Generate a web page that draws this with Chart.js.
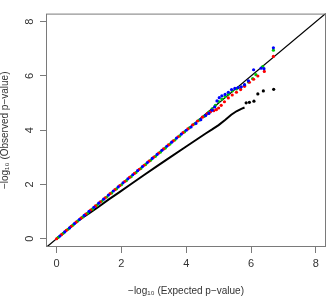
<!DOCTYPE html>
<html lang="en">
<head>
    <meta charset="UTF-8">
    <title>QQ plot</title>
    <script src="https://cdn.jsdelivr.net/npm/chart.js"></script>
    <style>
        body { margin: 0; background: #fff; }
    </style>
</head>
<body>
    <canvas id="qq" width="330" height="296"></canvas>
    <script>
        // -log10 p-values, expected (x) vs observed (y)
        const redX = [0.00, 0.15, 0.30, 0.45, 0.60, 0.75, 0.90, 1.05, 1.20, 1.35, 1.50, 1.65, 1.80, 1.95, 2.10, 2.25, 2.40, 2.55, 2.70, 2.85, 3.00, 3.15, 3.30, 3.45, 3.60, 3.75, 3.90, 4.05, 4.20, 4.35, 4.50, 4.65, 4.75, 4.85, 4.93, 5.00, 5.08, 5.18, 5.30, 5.42, 5.55, 5.68, 5.80, 5.95, 6.08, 6.21, 6.41, 6.69];
        const redY = [0.00, 0.15, 0.31, 0.46, 0.61, 0.76, 0.91, 1.06, 1.21, 1.36, 1.51, 1.66, 1.81, 1.96, 2.11, 2.26, 2.41, 2.56, 2.71, 2.86, 3.01, 3.16, 3.31, 3.46, 3.61, 3.76, 3.91, 4.05, 4.20, 4.34, 4.48, 4.61, 4.68, 4.72, 4.76, 4.82, 4.92, 5.05, 5.19, 5.30, 5.40, 5.50, 5.62, 5.77, 5.88, 6.00, 6.17, 6.72];

        const greenX = [0.05, 0.20, 0.35, 0.50, 0.65, 0.80, 0.95, 1.10, 1.25, 1.40, 1.55, 1.70, 1.85, 2.00, 2.15, 2.30, 2.45, 2.60, 2.75, 2.90, 3.05, 3.20, 3.35, 3.50, 3.65, 3.80, 3.95, 4.10, 4.25, 4.40, 4.55, 4.70, 4.80, 4.90, 5.00, 5.10, 5.20, 5.30, 5.42, 5.55, 5.68, 5.80, 5.92, 6.05, 6.15, 6.36, 6.69];
        const greenY = [0.05, 0.20, 0.35, 0.50, 0.65, 0.80, 0.94, 1.09, 1.24, 1.39, 1.54, 1.69, 1.84, 1.99, 2.14, 2.29, 2.44, 2.59, 2.74, 2.89, 3.04, 3.19, 3.34, 3.49, 3.64, 3.79, 3.94, 4.09, 4.23, 4.37, 4.51, 4.67, 4.79, 4.92, 5.06, 5.15, 5.24, 5.33, 5.45, 5.52, 5.58, 5.66, 5.78, 5.90, 6.05, 6.35, 6.95];

        const blueX = [0.10, 0.25, 0.40, 0.55, 0.70, 0.85, 1.00, 1.15, 1.30, 1.45, 1.60, 1.75, 1.90, 2.05, 2.20, 2.35, 2.50, 2.65, 2.80, 2.95, 3.10, 3.25, 3.40, 3.55, 3.70, 3.85, 4.00, 4.15, 4.30, 4.45, 4.60, 4.70, 4.80, 4.88, 4.95, 5.02, 5.10, 5.20, 5.30, 5.40, 5.50, 5.60, 5.70, 5.80, 5.92, 6.08, 6.31, 6.40, 6.69];
        const blueY = [0.10, 0.25, 0.40, 0.56, 0.71, 0.86, 1.01, 1.16, 1.31, 1.46, 1.61, 1.76, 1.91, 2.06, 2.21, 2.36, 2.51, 2.66, 2.81, 2.96, 3.11, 3.26, 3.41, 3.56, 3.71, 3.86, 4.00, 4.12, 4.25, 4.39, 4.54, 4.62, 4.74, 4.86, 5.08, 5.20, 5.27, 5.32, 5.40, 5.50, 5.54, 5.57, 5.60, 5.68, 5.82, 6.23, 6.29, 6.27, 7.04];

        // black series: dense part drawn as a line, sparse tail as points
        const blackX = [0.00, 0.30, 0.60, 0.80, 1.00, 1.30, 1.60, 1.93, 2.30, 2.70, 3.10, 3.50, 4.00, 4.30, 4.60, 4.80, 5.00, 5.20, 5.39, 5.55, 5.70, 5.80];
        const blackY = [0.00, 0.30, 0.60, 0.78, 0.93, 1.18, 1.44, 1.71, 2.02, 2.35, 2.68, 3.00, 3.40, 3.64, 3.88, 4.03, 4.19, 4.38, 4.57, 4.70, 4.79, 4.84];
        const blackTailX = [5.85, 5.95, 6.09, 6.21, 6.38, 6.70];
        const blackTailY = [5.01, 5.03, 5.07, 5.34, 5.45, 5.51];

        const xTicks = [0, 2, 4, 6, 8];
        const yTicks = [0, 2, 4, 6, 8];

        const pairs = (xs, ys) => xs.map((x, i) => ({ x: x, y: ys[i] }));

        const boxPlugin = {
            id: 'box',
            afterDraw(chart) {
                const { ctx, chartArea: a } = chart;
                ctx.save();
                ctx.strokeStyle = '#7a7a7a';
                ctx.lineWidth = 1;
                ctx.strokeRect(a.left + 0.5, a.top + 0.5, a.right - a.left - 1, a.bottom - a.top - 1);
                ctx.restore();
            }
        };

        const pointSet = (label, xs, ys, color, order) => ({
            label: label,
            data: pairs(xs, ys),
            backgroundColor: color,
            borderWidth: 0,
            pointRadius: 1.6,
            order: order
        });

        new Chart(document.getElementById('qq'), {
            type: 'scatter',
            data: {
                datasets: [
                    pointSet('blue', blueX, blueY, '#0000ff', 0),
                    pointSet('red', redX, redY, '#ff0000', 1),
                    pointSet('green', greenX, greenY, '#00cc00', 2),
                    pointSet('black tail', blackTailX, blackTailY, '#000000', 3),
                    {
                        label: 'black',
                        data: pairs(blackX, blackY),
                        showLine: true,
                        borderColor: '#000000',
                        borderWidth: 2,
                        pointRadius: 0,
                        order: 4
                    },
                    {
                        label: 'y = x',
                        data: [{ x: -1, y: -1 }, { x: 9, y: 9 }],
                        showLine: true,
                        borderColor: '#000000',
                        borderWidth: 1.2,
                        pointRadius: 0,
                        clip: 0,
                        order: 5
                    }
                ]
            },
            options: {
                responsive: false,
                animation: false,
                layout: { padding: { top: 1, right: 1, left: 0, bottom: 0 } },
                plugins: {
                    legend: { display: false },
                    tooltip: { enabled: false }
                },
                scales: {
                    x: {
                        type: 'linear',
                        min: -0.327,
                        max: 8.314,
                        afterFit: s => { s.height = 49; },
                        afterBuildTicks: s => { s.ticks = xTicks.map(v => ({ value: v })); },
                        border: { display: false },
                        grid: { drawOnChartArea: false, tickLength: 6, tickColor: '#7a7a7a' },
                        ticks: {
                            padding: 4,
                            color: '#333',
                            font: { family: 'Liberation Sans', size: 11 }
                        },
                        title: {
                            display: true,
                            text: '\u2212log\u2081\u2080 (Expected p\u2212value)',
                            color: '#333',
                            padding: 0,
                            font: { family: 'Liberation Sans', size: 10, lineHeight: 1 }
                        }
                    },
                    y: {
                        type: 'linear',
                        min: -0.304,
                        max: 8.30,
                        afterFit: s => { s.width = 46; },
                        afterBuildTicks: s => { s.ticks = yTicks.map(v => ({ value: v })); },
                        border: { display: false },
                        grid: { drawOnChartArea: false, tickLength: 6, tickColor: '#7a7a7a' },
                        ticks: {
                            minRotation: 90,
                            maxRotation: 90,
                            crossAlign: 'center',
                            padding: 7,
                            color: '#333',
                            font: { family: 'Liberation Sans', size: 11 }
                        },
                        title: {
                            display: true,
                            text: '\u2212log\u2081\u2080 (Observed p\u2212value)',
                            color: '#333',
                            padding: 0,
                            font: { family: 'Liberation Sans', size: 10, lineHeight: 1 }
                        }
                    }
                }
            },
            plugins: [boxPlugin]
        });
    </script>
</body>
</html>
